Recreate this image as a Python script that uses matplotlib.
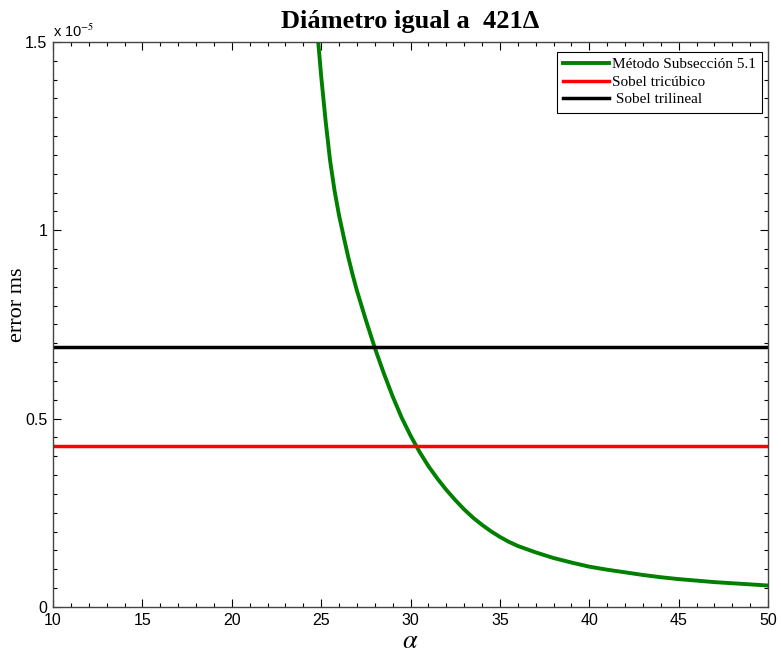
import matplotlib
matplotlib.use("Agg")
import matplotlib.pyplot as plt
import numpy as np
from matplotlib.ticker import MultipleLocator, FuncFormatter

# datos (error en unidades de 1e-5)
alpha = [24.8, 25.0, 25.25, 25.5, 25.75, 26.0, 26.25, 26.5, 26.75, 27.0, 27.5, 28.0,
         28.5, 29.0, 29.5, 30.0, 30.5, 31.0, 31.5, 32.0, 32.5, 33.0, 33.5, 34.0,
         34.5, 35.0, 35.5, 36.0, 37.0, 38.0, 39.0, 40.0, 41.0, 42.0, 43.0, 44.0,
         45.0, 46.0, 47.0, 48.0, 49.0, 50.0]
err_metodo = [1.52, 1.41, 1.29, 1.185, 1.105, 1.04, 0.985, 0.932, 0.884, 0.84, 0.762, 0.688,
              0.621, 0.559, 0.503, 0.455, 0.412, 0.374, 0.341, 0.311, 0.284, 0.259, 0.237, 0.218,
              0.201, 0.186, 0.173, 0.162, 0.145, 0.13, 0.118, 0.107, 0.099, 0.092, 0.085, 0.079,
              0.074, 0.070, 0.066, 0.063, 0.060, 0.057]
err_tricubico = 0.428
err_trilineal = 0.691
alpha_lim = [10, 50]

labels = ["Método Subsección 5.1", "Sobel tricúbico", " Sobel trilineal"]

plt.rcParams["mathtext.fontset"] = "stix"

fig = plt.figure(figsize=(7.81, 6.54), dpi=100)
ax = fig.add_axes([0.0679, 0.0719, 0.9155, 0.8639])

scale = 1e-5
ax.plot(alpha, np.array(err_metodo) * scale, color="#008000", lw=2.8, label=labels[0])
ax.plot(alpha_lim, [err_tricubico * scale] * 2, color="#ff0000", lw=2.5, label=labels[1])
ax.plot(alpha_lim, [err_trilineal * scale] * 2, color="black", lw=2.5, label=labels[2])

ax.set_xlim(10, 50)
ax.set_ylim(0, 1.5e-5)
ax.xaxis.set_major_locator(MultipleLocator(5))
ax.xaxis.set_minor_locator(MultipleLocator(1))
ax.yaxis.set_major_locator(MultipleLocator(0.5e-5))
ax.yaxis.set_minor_locator(MultipleLocator(0.05e-5))
ax.yaxis.set_major_formatter(FuncFormatter(lambda v, p: "%g" % round(v / scale, 3)))

ax.tick_params(which="both", direction="in", top=True, right=True,
               labelsize=11.5, labelfontfamily="Liberation Sans")
ax.tick_params(axis="x", which="major", pad=4)
ax.tick_params(axis="y", which="major", pad=4)
ax.tick_params(which="major", length=6, width=0.8)
ax.tick_params(which="minor", length=3, width=0.8)
for s in ax.spines.values():
    s.set_color("#444444")
    s.set_linewidth(1.0)

ax.text(0.0, 1.004, r"x 10$^{-5}$", transform=ax.transAxes, fontsize=10.5,
        family="Liberation Sans", ha="left", va="bottom")

ax.set_title("Diámetro igual a  421Δ", fontsize=19, fontweight="bold",
             family="Liberation Serif", pad=10)
ax.set_ylabel("error ms", fontsize=16, family="Liberation Serif")
ax.yaxis.set_label_coords(-0.036, 0.535)
ax.set_xlabel(r"$\alpha$", fontsize=19, labelpad=0)

leg = ax.legend(loc="upper right", bbox_to_anchor=(0.992, 0.983),
                prop={"family": "Liberation Serif", "size": 11},
                fancybox=False, edgecolor="black", framealpha=1,
                handlelength=3.0, borderaxespad=0, labelspacing=0.25,
                handletextpad=0.2, borderpad=0.4)
leg.get_frame().set_linewidth(0.8)

fig.savefig("out.png", dpi=100)
